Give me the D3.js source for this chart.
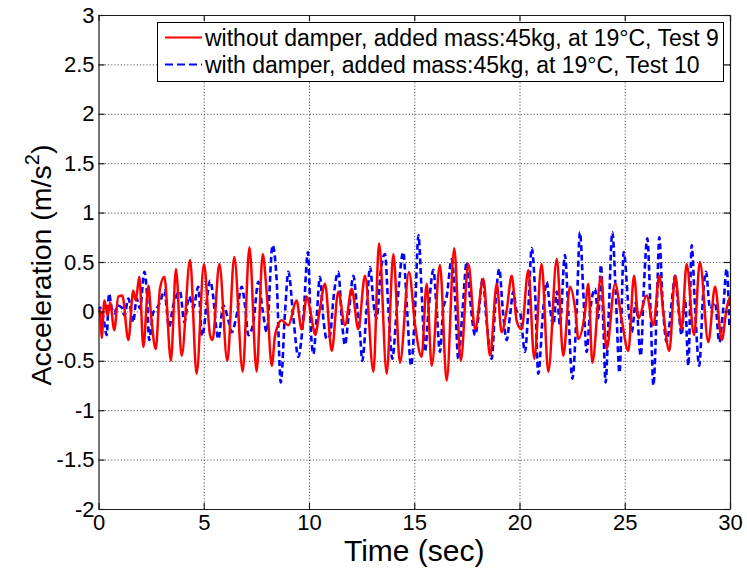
<!DOCTYPE html>
<html>
<head>
<meta charset="utf-8">
<script src="https://cdnjs.cloudflare.com/ajax/libs/d3/7.8.5/d3.min.js"></script>
<style>
  html, body { margin: 0; padding: 0; background: #fff; }
  svg { display: block; font-family: "Liberation Sans", Arial, Helvetica, sans-serif; }
</style>
</head>
<body>
<svg id="chart" width="747" height="574"></svg>
<script>
// ---- data ----
const xTicks = [0, 5, 10, 15, 20, 25, 30];
const yTicks = [-2, -1.5, -1, -0.5, 0, 0.5, 1, 1.5, 2, 2.5, 3];
const seriesNames = [
  "without damper, added mass:45kg, at 19\u00B0C, Test 9",
  "with damper, added mass:45kg, at 19\u00B0C, Test 10"
];

// Test 9 (without damper), red solid
const redTime = [0, 0.07, 0.15, 0.28, 0.44, 0.55, 0.75, 0.94, 1.13, 1.42, 1.65, 1.77, 1.94, 2.13, 2.37, 2.49,
  2.72, 2.92, 3.13, 3.44, 3.68, 3.95, 4.35, 4.66, 5.01, 5.30, 5.42, 5.74, 6.12, 6.45, 6.85, 7.17,
  7.51, 7.80, 7.99, 8.23, 8.39, 8.70, 9.02, 9.41, 9.65, 9.90, 10.10, 10.29, 10.52, 10.76, 11.08, 11.39,
  11.71, 12.03, 12.34, 12.66, 13.06, 13.33, 13.69, 14.01, 14.32, 14.75, 15.04, 15.35, 15.59, 15.83,
  16.22, 16.54, 16.90, 17.21, 17.57, 17.89, 18.28, 18.60, 18.92, 19.15, 19.39, 19.63, 19.87, 20.10,
  20.42, 20.70, 21.05, 21.37, 21.77, 22.08, 22.40, 22.64, 22.80, 23.11, 23.27, 23.46, 23.87, 24.14,
  24.54, 24.85, 25.17, 25.44, 25.65, 26.04, 26.36, 26.64, 26.83, 27.12, 27.39, 27.70, 27.94, 28.29,
  28.57, 28.97, 29.29, 29.61, 29.84, 30.0];
const redAccel = [0.02, 0.01, -0.27, 0.11, -0.04, 0.09, -0.19, 0.15, 0.16, -0.29, 0.21, 0.11, 0.35, -0.36, 0.26, -0.02,
  -0.38, 0.23, 0.35, -0.50, 0.43, -0.45, 0.52, -0.63, 0.48, -0.24, -0.29, 0.48, -0.50, 0.55, -0.61, 0.65,
  -0.61, 0.58, 0.19, -0.55, -0.24, -0.09, -0.14, 0.11, -0.18, 0.15, -0.04, -0.24, 0.03, 0.28, -0.40, 0.20,
  -0.14, 0.23, -0.18, 0.36, -0.61, 0.69, -0.63, 0.58, -0.52, 0.40, -0.14, -0.46, 0.28, -0.55,
  0.47, -0.70, 0.64, -0.50, 0.48, -0.18, 0.33, -0.45, 0.28, -0.21, 0.01, 0.36, -0.10, -0.18,
  0.42, -0.48, 0.48, -0.61, 0.53, -0.45, 0.25, 0.03, -0.28, -0.01, 0.28, -0.52, 0.35, -0.38,
  0.28, -0.08, -0.40, 0.36, -0.07, 0.16, -0.14, 0.36, -0.01, -0.40, 0.36, -0.18, 0.48, -0.24,
  0.50, -0.31, 0.25, -0.29, 0.03, 0.15];

// Test 10 (with damper), blue dashed
const blueTime = [0, 0.07, 0.23, 0.39, 0.50, 0.63, 0.75, 0.91, 1.10, 1.23, 1.42, 1.65, 1.81, 1.97, 2.18, 2.29,
  2.41, 2.60, 2.76, 2.92, 3.13, 3.35, 3.55, 3.87, 4.08, 4.30, 4.51, 4.74, 4.92, 5.30, 5.46, 5.58,
  5.69, 5.93, 6.17, 6.33, 6.56, 6.80, 6.96, 7.12, 7.36, 7.59, 7.80, 7.99, 8.27, 8.46, 8.66, 8.86,
  9.02, 9.26, 9.49, 9.73, 9.95, 10.10, 10.21, 10.36, 10.52, 10.68, 10.84, 11.00, 11.16, 11.39, 11.58, 11.71,
  11.87, 12.11, 12.26, 12.42, 12.53, 12.74, 12.90, 13.06, 13.21, 13.42, 13.61, 13.77, 13.96, 14.16, 14.48, 14.64,
  14.85, 15.04, 15.20, 15.35, 15.51, 15.67, 15.91, 16.06, 16.22, 16.38, 16.54, 16.78, 16.94, 17.09, 17.30, 17.49,
  17.65, 17.89, 18.04, 18.25, 18.44, 18.68, 18.84, 19.04, 19.20, 19.39, 19.55, 19.71, 19.87, 20.02, 20.26, 20.42,
  20.58, 20.74, 20.89, 21.13, 21.29, 21.45, 21.61, 21.77, 21.92, 22.16, 22.32, 22.51, 22.72, 22.87, 23.03, 23.19,
  23.35, 23.59, 23.74, 23.87, 23.98, 24.09, 24.22, 24.41, 24.57, 24.75, 24.95, 25.22, 25.33, 25.53, 25.76, 25.91,
  26.07, 26.23, 26.36, 26.52, 26.64, 26.80, 26.99, 27.23, 27.39, 27.55, 27.70, 27.86, 28.02, 28.18, 28.34, 28.54,
  28.73, 28.86, 29.05, 29.29, 29.49, 29.68, 29.84, 29.97];
const blueAccel = [0.0, 0.04, -0.06, -0.24, 0.18, 0.03, -0.02, 0.06, 0.04, -0.04, 0.13, -0.11, 0.13, 0.03, 0.40, 0.21,
  -0.29, -0.01, 0.03, 0.09, 0.21, -0.16, 0.06, 0.20, -0.11, 0.15, 0.04, 0.25, -0.25, 0.31, 0.13, -0.14,
  -0.28, 0.06, -0.09, -0.21, -0.04, 0.25, 0.06, -0.24, -0.11, 0.30, 0.01, -0.21, 0.67, 0.33, -0.72, -0.01,
  0.40, -0.07, -0.46, -0.07, 0.60, -0.24, -0.43, -0.07, 0.35, -0.07, -0.28, -0.24, 0.13, 0.40, -0.14, -0.34,
  -0.07, 0.36, 0.09, -0.21, -0.50, 0.03, 0.45, 0.09, -0.07, 0.43, 0.58, 0.03, -0.48, -0.01, 0.60, 0.09,
  -0.55, 0.03, 0.77, 0.20, -0.41, -0.01, 0.42, 0.03, -0.41, 0.03, 0.15, 0.53, 0.13, -0.48, 0.03, 0.50,
  0.13, -0.24, -0.07, 0.33, -0.11, -0.48, 0.03, 0.43, 0.03, -0.29, -0.04, 0.20, 0.0, -0.01, -0.41, 0.03,
  0.64, 0.20, -0.63, 0.03, 0.30, 0.03, -0.14, 0.20, -0.14, 0.57, -0.01, -0.68, 0.03, 0.80, 0.20, -0.41,
  -0.01, 0.23, -0.07, 0.47, -0.11, -0.72, -0.14, 0.80, 0.20, -0.62, 0.60, -0.07, -0.21, 0.09, -0.45, 0.26,
  0.74, -0.01, -0.75, 0.03, 0.75, 0.09, -0.31, 0.09, 0.36, 0.03, -0.24, 0.13, -0.55, 0.67, 0.03, -0.55,
  0.20, 0.40, 0.03, 0.09, -0.31, 0.03, 0.43, -0.14];

// ---- layout ----
const svg = d3.select("#chart");
const L = 98.5, R = 730, T = 15, B = 509;
const W = R - L, H = B - T;
const FONT = "\"Liberation Sans\", Arial, Helvetica, sans-serif";
const axisColor = "#1a1a1a";

const x = d3.scaleLinear().domain([0, 30]).range([0, W]);
const y = d3.scaleLinear().domain([-2, 3]).range([H, 0]);

const g = svg.append("g").attr("transform", `translate(${L},${T})`);

// grid
const gridX = g.append("g").attr("transform", `translate(0,${H})`)
  .call(d3.axisBottom(x).tickValues(xTicks.slice(1, -1)).tickSize(-H).tickFormat(""));
const gridY = g.append("g")
  .call(d3.axisLeft(y).tickValues(yTicks.slice(1, -1)).tickSize(-W).tickFormat(""));
[gridX, gridY].forEach(s => {
  s.select(".domain").remove();
  s.selectAll(".tick line").attr("stroke", "#333").attr("stroke-width", 1).attr("stroke-dasharray", "1,2.2");
});

// series
g.append("clipPath").attr("id", "plotclip").append("rect").attr("width", W).attr("height", H);
const plot = g.append("g").attr("clip-path", "url(#plotclip)");
const line = d3.line().x(d => x(d[0])).y(d => y(d[1])).curve(d3.curveMonotoneX);
const blueData = blueTime.map((t, i) => [t, blueAccel[i]]);
const redData = redTime.map((t, i) => [t, redAccel[i]]);
plot.append("path").datum(blueData).attr("d", line)
  .attr("fill", "none").attr("stroke", "#0000ff").attr("stroke-width", 2.6)
  .attr("stroke-dasharray", "6,3.5").attr("stroke-linejoin", "round");
plot.append("path").datum(redData).attr("d", line)
  .attr("fill", "none").attr("stroke", "#ff0000").attr("stroke-width", 2.5)
  .attr("stroke-linejoin", "round");

// axes
function styleAxis(s) {
  s.select(".domain").attr("stroke", axisColor).attr("stroke-width", 1.2);
  s.selectAll(".tick line").attr("stroke", axisColor).attr("stroke-width", 1.2);
  s.selectAll(".tick text").attr("fill", "#000").attr("font-family", FONT).attr("font-size", 22);
}
const xAxis = g.append("g").attr("transform", `translate(0,${H})`)
  .call(d3.axisBottom(x).tickValues(xTicks).tickSizeInner(-6).tickSizeOuter(0).tickPadding(5).tickFormat(d => String(d)));
styleAxis(xAxis);
const xAxisTop = g.append("g")
  .call(d3.axisTop(x).tickValues(xTicks).tickSizeInner(-6).tickSizeOuter(0).tickFormat(""));
styleAxis(xAxisTop);
const yAxis = g.append("g")
  .call(d3.axisLeft(y).tickValues(yTicks).tickSizeInner(-6).tickSizeOuter(0).tickPadding(4).tickFormat(d => String(d)));
styleAxis(yAxis);
const yAxisRight = g.append("g").attr("transform", `translate(${W},0)`)
  .call(d3.axisRight(y).tickValues(yTicks).tickSizeInner(-6).tickSizeOuter(0).tickFormat(""));
styleAxis(yAxisRight);

// axis titles
svg.append("text")
  .attr("x", L + W / 2).attr("y", 561)
  .attr("text-anchor", "middle").attr("font-family", FONT).attr("font-size", 30).attr("fill", "#000")
  .text("Time (sec)");
const yl = svg.append("text")
  .attr("transform", `translate(51,${T + H / 2 + 3}) rotate(-90)`)
  .attr("text-anchor", "middle").attr("font-family", FONT).attr("font-size", 28.5).attr("fill", "#000");
yl.append("tspan").text("Acceleration (m/s");
yl.append("tspan").attr("dy", -12).attr("font-size", 20).text("2");
yl.append("tspan").attr("dy", 12).text(")");

// legend
const leg = svg.append("g");
leg.append("rect").attr("x", 157.5).attr("y", 22.5).attr("width", 566).attr("height", 59)
  .attr("fill", "#fff").attr("stroke", "#000").attr("stroke-width", 1);
const legItems = [
  { name: seriesNames[0], color: "#ff0000", dash: null, cy: 37.5 },
  { name: seriesNames[1], color: "#0000ff", dash: "8,4", cy: 64.5 }
];
legItems.forEach(it => {
  leg.append("line").attr("x1", 165).attr("x2", 202).attr("y1", it.cy).attr("y2", it.cy)
    .attr("stroke", it.color).attr("stroke-width", 2).attr("stroke-dasharray", it.dash);
  leg.append("text").attr("x", 205).attr("y", it.cy + 8)
    .attr("font-family", FONT).attr("font-size", 23).attr("fill", "#000").text(it.name);
});
</script>
</body>
</html>
